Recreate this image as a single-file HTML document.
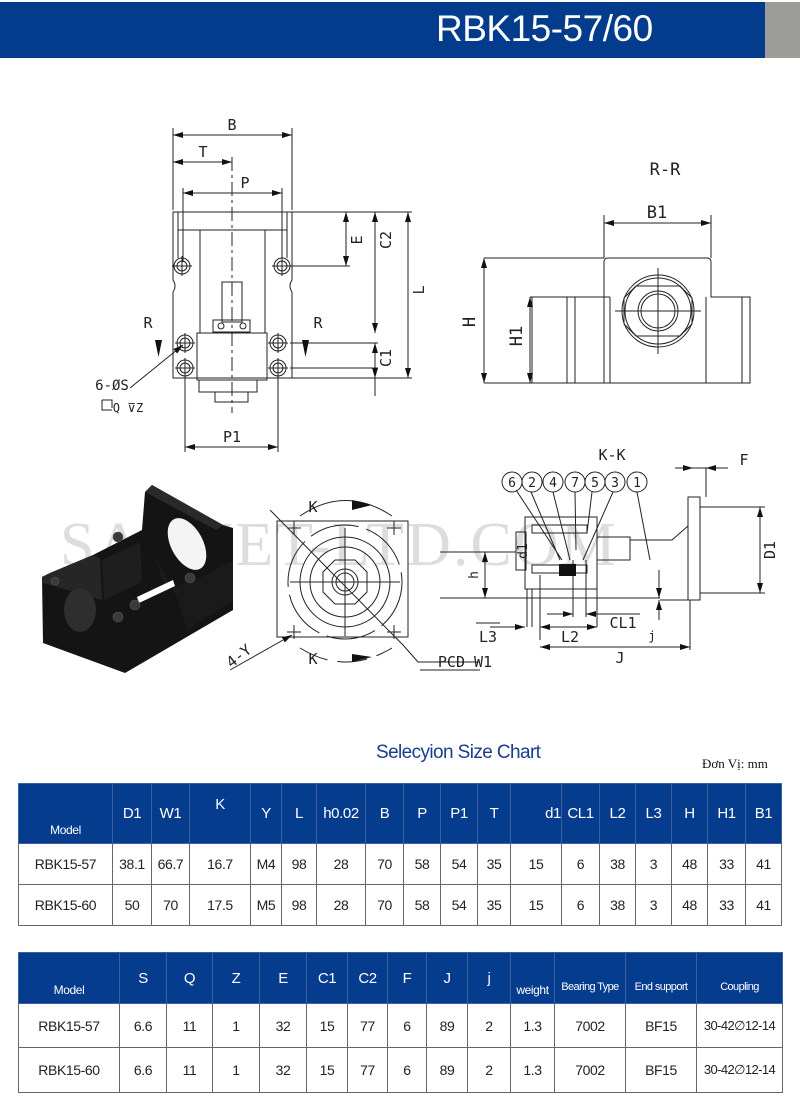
<!DOCTYPE html>
<html><head><meta charset="utf-8"><style>
body{margin:0;width:800px;height:1109px;background:#fff;position:relative;overflow:hidden;font-family:"Liberation Sans",sans-serif}
.hdr{position:absolute;left:0;top:2px;width:765px;height:56px;background:#033b8d}
.gry{position:absolute;left:765px;top:2px;width:35px;height:56px;background:#9c9c98}
.ttl{position:absolute;left:436px;top:8px;color:#fff;font-size:37px;letter-spacing:-0.5px}
table{position:absolute;border-collapse:collapse;table-layout:fixed;font-family:"Liberation Sans Narrow","Liberation Sans",sans-serif}
td{border:1px solid #666;text-align:center;font-size:14px;letter-spacing:-0.4px;color:#222;padding:0;white-space:nowrap;overflow:hidden}
tr.h td{background:#053c8e;color:#fff;border-color:#3b5f9e;vertical-align:middle;font-size:15px}
tr.h td.m{font-size:12px;vertical-align:bottom;padding-bottom:6px}
tr.h td.s{font-size:11px;vertical-align:bottom;padding-bottom:10px;letter-spacing:-0.6px}
</style></head><body>
<div class="hdr"></div><div class="gry"></div>
<div class="ttl">RBK15-57/60</div>

<svg width="800" height="740" style="position:absolute;left:0;top:0" xmlns="http://www.w3.org/2000/svg" font-family="DejaVu Sans Mono, Liberation Mono, monospace">
<defs><marker id="a" markerWidth="10" markerHeight="6" refX="10" refY="3" orient="auto-start-reverse" markerUnits="userSpaceOnUse"><path d="M0,0 L10,3 L0,6z" fill="#111"/></marker></defs>
<text x="60" y="565" font-family="Liberation Serif,serif" font-size="62" fill="#ddd" letter-spacing="2">SAIVIET-LTD.COM</text>
<g stroke="#222" stroke-width="1" fill="none">
<!-- top view -->
<path d="M173,212 H292 V280 Q288,286 292,292 V378 H173 V292 Q177,286 173,280 Z"/>
<rect x="178" y="212" width="109" height="18"/>
<rect x="200" y="230" width="65" height="103"/>
<line x1="178" y1="230" x2="178" y2="258"/><line x1="287" y1="230" x2="287" y2="258"/>
<rect x="197" y="333" width="70" height="47"/>
<rect x="199" y="380" width="58" height="12"/>
<rect x="215" y="392" width="33" height="10"/>
<rect x="222" y="282" width="20" height="40"/>
<rect x="213" y="320" width="37" height="12"/>
<circle cx="221" cy="326" r="3"/><circle cx="243" cy="326" r="3"/>
<line x1="232" y1="157" x2="232" y2="413" stroke-dasharray="14,4,3,4"/>
<g>
<circle cx="182" cy="266" r="8"/><circle cx="182" cy="266" r="5"/>
<circle cx="282" cy="266" r="8"/><circle cx="282" cy="266" r="5"/>
<circle cx="185" cy="343" r="8"/><circle cx="185" cy="343" r="5"/>
<circle cx="278" cy="343" r="8"/><circle cx="278" cy="343" r="5"/>
<circle cx="185" cy="368" r="8"/><circle cx="185" cy="368" r="5"/>
<circle cx="278" cy="368" r="8"/><circle cx="278" cy="368" r="5"/>
<path d="M172,266h20M182,256v20M272,266h20M282,256v20M175,343h20M185,333v20M268,343h20M278,333v20M175,368h20M185,358v20M268,368h20M278,358v20"/>
</g>
<path d="M173,128V210M292,128V210M183,188V262M282,188V262M185,376V452M278,376V452"/>
<line x1="173" y1="135" x2="292" y2="135" marker-start="url(#a)" marker-end="url(#a)"/>
<line x1="173" y1="162" x2="232" y2="162" marker-start="url(#a)" marker-end="url(#a)"/>
<line x1="183" y1="193" x2="282" y2="193" marker-start="url(#a)" marker-end="url(#a)"/>
<line x1="185" y1="447" x2="278" y2="447" marker-start="url(#a)" marker-end="url(#a)"/>
<path d="M287,212H412M290,266H350M290,343H378M290,368H378M292,378H412"/>
<line x1="346" y1="212" x2="346" y2="266" marker-start="url(#a)" marker-end="url(#a)"/>
<line x1="375" y1="212" x2="375" y2="333" marker-start="url(#a)" marker-end="url(#a)"/>
<line x1="408" y1="212" x2="408" y2="378" marker-start="url(#a)" marker-end="url(#a)"/>
<line x1="375" y1="343" x2="375" y2="378" marker-start="url(#a)" marker-end="url(#a)"/>
<line x1="375" y1="378" x2="375" y2="396"/>
<line x1="130" y1="388" x2="183" y2="345" marker-end="url(#a)"/>
<path d="M102,400H112V408M102,400v10h10"/>
</g>
<g fill="#111"><path d="M155,340h7l-3.5,17z"/><path d="M302,340h7l-3.5,17z"/></g>
<g font-size="15" fill="#222" text-anchor="middle">
<text x="232" y="130">B</text><text x="203" y="157">T</text><text x="245" y="188">P</text><text x="232" y="442">P1</text>
<text x="148" y="328">R</text><text x="318" y="328">R</text>
<text transform="translate(362,240) rotate(-90)">E</text>
<text transform="translate(391,240) rotate(-90)">C2</text>
<text transform="translate(391,358) rotate(-90)">C1</text>
<text transform="translate(424,290) rotate(-90)">L</text>
<text x="112" y="390" font-size="14">6-ØS</text>
<text x="128" y="412" font-size="12">Q ⊽Z</text>
</g>
<!-- R-R view -->
<g stroke="#222" stroke-width="1" fill="none">
<path d="M604,383V262Q604,258 608,258H707Q711,258 711,262V297H750V383H532V297H610"/>
<path d="M567,297V383M575,297V383M610,297V383M706,297V383M742,297V383"/>
<circle cx="658" cy="311" r="36"/><circle cx="658" cy="311" r="33"/>
<path d="M636,286H680L692,298V324L680,336H636L624,324V298Z"/>
<circle cx="658" cy="311" r="20"/><circle cx="658" cy="311" r="17"/>
<path d="M615,311H701M658,268V354"/>
<path d="M604,215V258M711,215V258M484,258H604M530,297H540M484,383H532"/>
<line x1="604" y1="223" x2="711" y2="223" marker-start="url(#a)" marker-end="url(#a)"/>
<line x1="484" y1="258" x2="484" y2="383" marker-start="url(#a)" marker-end="url(#a)"/>
<line x1="530" y1="297" x2="530" y2="383" marker-start="url(#a)" marker-end="url(#a)"/>
</g>
<g font-size="17" fill="#222" text-anchor="middle">
<text x="665" y="175">R-R</text><text x="657" y="218">B1</text>
<text transform="translate(475,322) rotate(-90)">H</text>
<text transform="translate(522,336) rotate(-90)">H1</text>
</g>
<!-- isometric block -->
<path d="M42,577L43,643L125,673L233,610L233,528L223,525L152,485L145,492L142,530L93,555L50,573Z" fill="#141414"/>
<path d="M42,577L50,573L93,555L100,558L102,600L43,583Z" fill="#262626"/>
<path d="M102,560L140,542L142,582L104,600Z" fill="#1e1e1e"/>
<path d="M145,492L152,485L223,525L216,530Z" fill="#2a2a2a"/>
<path d="M155,555L165,590L200,578L233,560V600L187,630L178,600Z" fill="#1a1a1a"/>
<ellipse cx="187" cy="544" rx="16" ry="28" transform="rotate(-28 187 544)" fill="#f4f4f4"/>
<ellipse cx="80" cy="610" rx="16" ry="22" fill="#2e2e2e"/>
<path d="M137,597L173,580L175,586L139,603Z" fill="#fff"/>
<g fill="#3a3a3a" stroke="#555" stroke-width="0.6"><circle cx="118" cy="537" r="5"/><circle cx="190" cy="578" r="5"/><circle cx="135" cy="605" r="5"/><circle cx="118" cy="617" r="5"/><circle cx="55" cy="581" r="4"/></g>
<!-- front view -->
<g stroke="#222" stroke-width="1" fill="none">
<rect x="277" y="521" width="131" height="116"/>
<circle cx="345" cy="582" r="57" stroke-dasharray="50,8"/>
<circle cx="345" cy="582" r="45"/><circle cx="345" cy="582" r="35"/>
<path d="M335,560H355L367,572V592L355,604H335L323,592V572Z"/>
<circle cx="345" cy="582" r="13"/><circle cx="345" cy="582" r="9"/>
<path d="M290,582H400M345,528V636"/>
<path d="M287,528h14M294,521v14M387,528h14M394,521v14M287,632h14M294,625v14M387,632h14M394,625v14"/>
<path d="M270,510L403,645L418,662H480"/>
<path d="M300,516Q345,485 392,516" />
<path d="M300,648Q345,676 392,648" stroke-dasharray="30,10"/>
<line x1="230" y1="670" x2="292" y2="635" marker-end="url(#a)"/>
</g>
<g fill="#111"><path d="M352,500L372,505L352,510Z"/><path d="M352,654L372,657L352,662Z"/></g>
<g font-size="15" fill="#222" text-anchor="middle">
<text x="313" y="512">K</text><text x="313" y="664">K</text>
<text x="465" y="667">PCD W1</text>
<text transform="translate(242,660) rotate(-38)">4-Y</text>
</g>
<!-- K-K view -->
<g stroke="#222" stroke-width="1" fill="none">
<g><circle cx="512" cy="482" r="10"/><circle cx="532" cy="482" r="10"/><circle cx="553" cy="482" r="10"/><circle cx="575" cy="482" r="10"/><circle cx="595" cy="482" r="10"/><circle cx="615" cy="482" r="10"/><circle cx="637" cy="482" r="10"/></g>
<path d="M516,490L562,560M531,492L560,560M553,492L570,560M575,492L576,550M592,492L587,533M613,492L583,560M637,492L650,560"/>
<rect x="525" y="517" width="72" height="72"/>
<rect x="516" y="532" width="10" height="38"/>
<path d="M597,537H630V560H597M630,540H672L688,526"/>
<rect x="532" y="525" width="55" height="8"/><rect x="532" y="565" width="55" height="8"/>
<path d="M527,589V627M532,589V627M540,575V640M597,575V627"/>
<path d="M688,497H700V600H688ZM693,468H706V497M700,507H760V593H700M660,600H700"/>
<path d="M440,598H660M440,552H516"/>
<path d="M700,507H765M700,593H765"/>
<line x1="760" y1="507" x2="760" y2="593" marker-start="url(#a)" marker-end="url(#a)"/>
<line x1="675" y1="468" x2="693" y2="468" marker-end="url(#a)"/>
<line x1="728" y1="468" x2="706" y2="468" marker-end="url(#a)"/>
<line x1="540" y1="647" x2="690" y2="647" marker-start="url(#a)" marker-end="url(#a)"/>
<path d="M690,600V650"/>
<line x1="540" y1="627" x2="597" y2="627" marker-start="url(#a)" marker-end="url(#a)"/>
<line x1="490" y1="627" x2="525" y2="627" marker-end="url(#a)"/>
<line x1="547" y1="614" x2="573" y2="614" marker-end="url(#a)"/>
<line x1="640" y1="614" x2="586" y2="614" marker-end="url(#a)"/>
<path d="M573,560V617M586,560V617"/>
<line x1="659" y1="570" x2="659" y2="598" marker-end="url(#a)"/>
<line x1="659" y1="620" x2="659" y2="600" marker-end="url(#a)"/>
<line x1="485" y1="552" x2="485" y2="598" marker-start="url(#a)" marker-end="url(#a)"/>
<path d="M476,623H500M420,670H480"/>
</g>
<rect x="559" y="564" width="17" height="12" fill="#111"/>
<g font-size="15" fill="#222" text-anchor="middle">
<text x="612" y="460">K-K</text><text x="744" y="465">F</text>
<g font-size="13"><text x="512" y="487">6</text><text x="532" y="487">2</text><text x="553" y="487">4</text><text x="575" y="487">7</text><text x="595" y="487">5</text><text x="615" y="487">3</text><text x="637" y="487">1</text></g>
<text x="620" y="663">J</text><text x="570" y="642">L2</text><text x="488" y="642">L3</text><text x="623" y="628">CL1</text><text x="652" y="640" font-size="12">j</text>
<text transform="translate(775,550) rotate(-90)">D1</text>
<text transform="translate(527,551) rotate(-90)" font-size="13">d1</text>
<text transform="translate(478,575) rotate(-90)" font-size="13">h</text>
</g>
</svg>

<div style="position:absolute;left:376px;top:742px;color:#1a3c8c;font-size:19px;letter-spacing:-0.6px">Selecyion Size Chart</div>
<div style="position:absolute;left:702px;top:756px;font-family:'Liberation Serif',serif;font-size:13px;color:#111">Đơn Vị: mm</div>

<table style="left:18px;top:783px;width:764px">
<colgroup><col style="width:94px"><col style="width:39px"><col style="width:38px"><col style="width:61px"><col style="width:31px"><col style="width:35px"><col style="width:49px"><col style="width:38px"><col style="width:37px"><col style="width:37px"><col style="width:33px"><col style="width:51px"><col style="width:38px"><col style="width:36px"><col style="width:36px"><col style="width:36px"><col style="width:38px"><col style="width:36px"></colgroup>
<tr class="h" style="height:60px"><td class="m">Model</td><td>D1</td><td>W1</td><td style="vertical-align:top;padding-top:12px">K</td><td>Y</td><td>L</td><td>h0.02</td><td>B</td><td>P</td><td>P1</td><td>T</td><td style="text-align:right">d1</td><td>CL1</td><td>L2</td><td>L3</td><td>H</td><td>H1</td><td>B1</td></tr>
<tr style="height:41px"><td>RBK15-57</td><td>38.1</td><td>66.7</td><td>16.7</td><td>M4</td><td>98</td><td>28</td><td>70</td><td>58</td><td>54</td><td>35</td><td>15</td><td>6</td><td>38</td><td>3</td><td>48</td><td>33</td><td>41</td></tr>
<tr style="height:41px"><td>RBK15-60</td><td>50</td><td>70</td><td>17.5</td><td>M5</td><td>98</td><td>28</td><td>70</td><td>58</td><td>54</td><td>35</td><td>15</td><td>6</td><td>38</td><td>3</td><td>48</td><td>33</td><td>41</td></tr>
</table>

<table style="left:18px;top:952px;width:764px">
<colgroup><col style="width:101px"><col style="width:47px"><col style="width:46px"><col style="width:47px"><col style="width:47px"><col style="width:41px"><col style="width:40px"><col style="width:39px"><col style="width:41px"><col style="width:43px"><col style="width:44px"><col style="width:71px"><col style="width:71px"><col style="width:86px"></colgroup>
<tr class="h" style="height:51px"><td class="m">Model</td><td>S</td><td>Q</td><td>Z</td><td>E</td><td>C1</td><td>C2</td><td>F</td><td>J</td><td>j</td><td class="m">weight</td><td class="s">Bearing Type</td><td class="s">End support</td><td class="s">Coupling</td></tr>
<tr style="height:44px"><td>RBK15-57</td><td>6.6</td><td>11</td><td>1</td><td>32</td><td>15</td><td>77</td><td>6</td><td>89</td><td>2</td><td>1.3</td><td>7002</td><td>BF15</td><td style="font-size:13px;letter-spacing:-0.6px">30-42∅12-14</td></tr>
<tr style="height:45px"><td>RBK15-60</td><td>6.6</td><td>11</td><td>1</td><td>32</td><td>15</td><td>77</td><td>6</td><td>89</td><td>2</td><td>1.3</td><td>7002</td><td>BF15</td><td style="font-size:13px;letter-spacing:-0.6px">30-42∅12-14</td></tr>
</table>
</body></html>
